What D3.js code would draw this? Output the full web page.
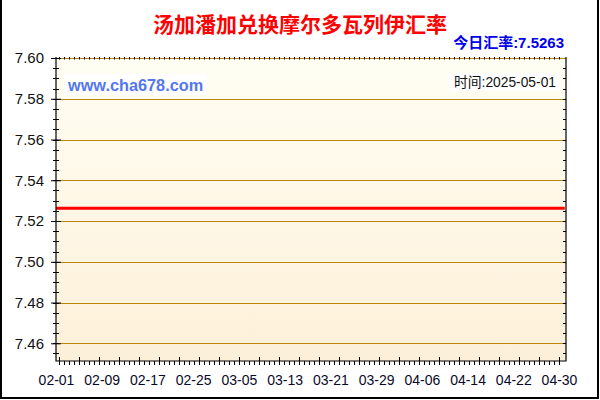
<!DOCTYPE html>
<html lang="zh">
<head>
  <meta charset="UTF-8">
  <title>汤加潘加兑换摩尔多瓦列伊汇率</title>
  <style>
    body { margin: 0; background: #fff; }
    svg { display: block; }
    text { font-family: "Liberation Sans", Arial, "Noto Sans CJK SC", sans-serif; }
  </style>
</head>
<body>
<div id="chart"></div>
<script src="https://d3js.org/d3.v7.min.js"></script>
<script>
  // Daten
  var dates = ['2025-02-01', '2025-02-09', '2025-02-17', '2025-02-25', '2025-03-05', '2025-03-13',
    '2025-03-21', '2025-03-29', '2025-04-06', '2025-04-14', '2025-04-22', '2025-04-30', '2025-05-01'];
  var rates = [7.5263, 7.5263, 7.5263, 7.5263, 7.5263, 7.5263,
    7.5263, 7.5263, 7.5263, 7.5263, 7.5263, 7.5263, 7.5263];
  var xTickDates = ['2025-02-01', '2025-02-09', '2025-02-17', '2025-02-25', '2025-03-05', '2025-03-13',
    '2025-03-21', '2025-03-29', '2025-04-06', '2025-04-14', '2025-04-22', '2025-04-30'];
  var xTickLabels = ['02-01', '02-09', '02-17', '02-25', '03-05', '03-13',
    '03-21', '03-29', '04-06', '04-14', '04-22', '04-30'];
  var yTicks = [7.46, 7.48, 7.50, 7.52, 7.54, 7.56, 7.58, 7.60];
  var yTickLabels = ['7.46', '7.48', '7.50', '7.52', '7.54', '7.56', '7.58', '7.60'];
  var titleText = '汤加潘加兑换摩尔多瓦列伊汇率';
  var todayText = '今日汇率:7.5263';
  var siteText = 'www.cha678.com';
  var timeText = '时间:2025-05-01';

  var parse = d3.timeParse('%Y-%m-%d');
  var dataset = dates.map(function(d, i) {
    return { date: parse(d), value: rates[i] };
  });

  var width = 600, height = 400;
  var frame = { left: 56, right: 566, top: 57, bottom: 361 };

  var svg = d3.select('#chart')
    .append('svg')
    .attr('width', width)
    .attr('height', height);

  var xScale = d3.scaleTime()
    .domain([parse('2025-02-01'), parse('2025-04-30')])
    .range([56, 559]);

  var yScale = d3.scaleLinear()
    .domain([7.46, 7.60])
    .range([343.3, 58]);

  // Hintergrundverlauf
  var grad = svg.append('defs').append('linearGradient')
    .attr('id', 'bg')
    .attr('x1', 0).attr('y1', 0).attr('x2', 0).attr('y2', 1);
  grad.append('stop').attr('offset', '0%').attr('stop-color', '#fffef3');
  grad.append('stop').attr('offset', '100%').attr('stop-color', '#fdf0d9');

  svg.append('rect')
    .attr('x', frame.left)
    .attr('y', frame.top)
    .attr('width', frame.right - frame.left)
    .attr('height', frame.bottom - frame.top)
    .attr('fill', 'url(#bg)');

  // Gitterlinien
  svg.append('g')
    .selectAll('line')
    .data(yTicks)
    .enter()
    .append('line')
    .attr('x1', frame.left)
    .attr('x2', frame.right)
    .attr('y1', function(d) { return Math.round(yScale(d)) + 0.5; })
    .attr('y2', function(d) { return Math.round(yScale(d)) + 0.5; })
    .attr('stroke', '#b8860b')
    .attr('stroke-width', 1);

  // Linie
  var line = d3.line()
    .x(function(d) { return xScale(d.date); })
    .y(function(d) { return yScale(d.value); });

  svg.append('path')
    .datum(dataset)
    .attr('fill', 'none')
    .attr('stroke', '#ff0000')
    .attr('stroke-width', 3)
    .attr('d', line);

  // Rahmen
  svg.append('path')
    .attr('d', 'M' + frame.left + ',' + frame.top + 'V' + frame.bottom + 'H' + frame.right + 'V' + frame.top)
    .attr('fill', 'none')
    .attr('stroke', '#000')
    .attr('stroke-width', 1.2);

  // Y-Achse
  var minorY = d3.range(7.455, 7.6, 0.005);
  svg.append('g')
    .selectAll('line')
    .data(minorY)
    .enter()
    .append('line')
    .attr('x1', frame.left - 3)
    .attr('x2', frame.left + 3)
    .attr('y1', function(d) { return Math.round(yScale(d)) + 0.5; })
    .attr('y2', function(d) { return Math.round(yScale(d)) + 0.5; })
    .attr('stroke', '#000');

  svg.append('g')
    .selectAll('line')
    .data(minorY)
    .enter()
    .append('line')
    .attr('x1', frame.right - 3)
    .attr('x2', frame.right)
    .attr('y1', function(d) { return Math.round(yScale(d)) + 0.5; })
    .attr('y2', function(d) { return Math.round(yScale(d)) + 0.5; })
    .attr('stroke', '#000');

  var yAxis = d3.axisLeft(yScale)
    .tickValues(yTicks)
    .tickFormat(function(d, i) { return yTickLabels[i]; })
    .tickSize(5)
    .tickSizeOuter(0)
    .tickPadding(7);

  var yG = svg.append('g')
    .attr('transform', 'translate(' + frame.left + ',0)')
    .call(yAxis);
  yG.select('.domain').remove();
  yG.selectAll('.tick line').attr('x2', 5).attr('x1', -5).attr('stroke', '#000');
  yG.selectAll('.tick text')
    .attr('font-size', '15px')
    .attr('fill', '#111')
    .attr('font-family', '"Liberation Sans", Arial, sans-serif');

  // X-Achse: Teilstriche alle 21 Stunden, jeder vierte lang
  var tickStart = new Date(2025, 1, 1, 14);
  var minorX = d3.range(0, 101).map(function(i) {
    return d3.timeHour.offset(tickStart, i * 21);
  });
  svg.append('g')
    .selectAll('line')
    .data(minorX)
    .enter()
    .append('line')
    .attr('x1', function(d) { return Math.round(xScale(d)) + 0.5; })
    .attr('x2', function(d) { return Math.round(xScale(d)) + 0.5; })
    .attr('y1', function(d, i) { return i % 4 === 0 ? frame.bottom - 4 : frame.bottom; })
    .attr('y2', frame.bottom + 4)
    .attr('stroke', '#000');

  svg.append('g')
    .selectAll('line')
    .data(minorX)
    .enter()
    .append('line')
    .attr('x1', function(d) { return Math.round(xScale(d)) + 0.5; })
    .attr('x2', function(d) { return Math.round(xScale(d)) + 0.5; })
    .attr('y1', frame.top)
    .attr('y2', frame.top + 2.5)
    .attr('stroke', '#000');

  var xAxis = d3.axisBottom(xScale)
    .tickValues(xTickDates.map(parse))
    .tickFormat(function(d, i) { return xTickLabels[i]; })
    .tickSize(0)
    .tickSizeOuter(0)
    .tickPadding(14);

  var xG = svg.append('g')
    .attr('transform', 'translate(0,' + frame.bottom + ')')
    .call(xAxis);
  xG.select('.domain').remove();
  xG.selectAll('.tick line').remove();
  xG.selectAll('.tick text')
    .attr('font-size', '14px')
    .attr('fill', '#0a0a2a')
    .attr('font-family', '"Liberation Sans", Arial, sans-serif');

  // Texte
  svg.append('text')
    .attr('x', 300)
    .attr('y', 24)
    .attr('text-anchor', 'middle')
    .attr('dominant-baseline', 'central')
    .attr('font-family', '"Noto Sans CJK SC", sans-serif')
    .attr('font-weight', 'bold')
    .attr('font-size', '21px')
    .attr('fill', '#ff0000')
    .text(titleText);

  svg.append('text')
    .attr('x', 564)
    .attr('y', 42)
    .attr('text-anchor', 'end')
    .attr('dominant-baseline', 'central')
    .attr('font-family', '"Liberation Sans", "Noto Sans CJK SC", sans-serif')
    .attr('font-weight', 'bold')
    .attr('font-size', '15px')
    .attr('fill', '#0000ee')
    .text(todayText);

  svg.append('rect')
    .attr('x', 64)
    .attr('y', 74)
    .attr('width', 143)
    .attr('height', 21)
    .attr('fill', '#fff');

  svg.append('text')
    .attr('x', 68)
    .attr('y', 85)
    .attr('dominant-baseline', 'central')
    .attr('font-weight', 'bold')
    .attr('font-size', '16.3px')
    .attr('fill', '#5577ee')
    .text(siteText);

  svg.append('rect')
    .attr('x', 449)
    .attr('y', 73)
    .attr('width', 111)
    .attr('height', 18)
    .attr('fill', '#fff');

  svg.append('text')
    .attr('x', 556)
    .attr('y', 82)
    .attr('text-anchor', 'end')
    .attr('dominant-baseline', 'central')
    .attr('font-family', '"Liberation Sans", "Noto Sans CJK SC", sans-serif')
    .attr('font-size', '13.8px')
    .attr('fill', '#111')
    .text(timeText);

  // Bildrahmen
  svg.append('path')
    .attr('d', 'M1,0V398H598V0')
    .attr('fill', 'none')
    .attr('stroke', '#000')
    .attr('stroke-width', 2);
</script>
</body>
</html>
